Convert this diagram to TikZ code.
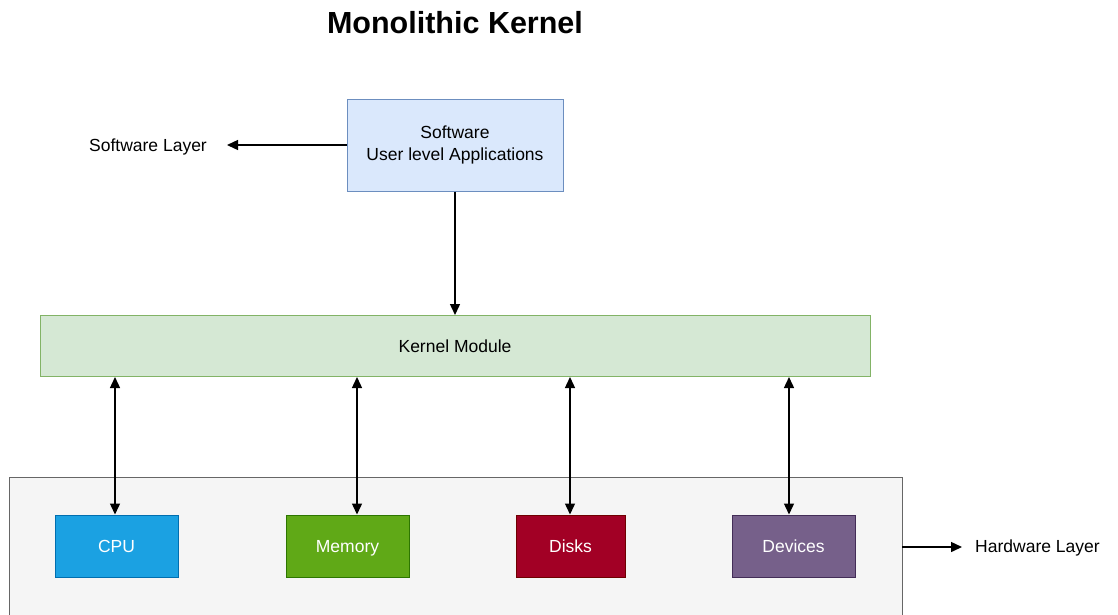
\documentclass[tikz,border=0pt]{standalone}
\usepackage{fontspec}
\setmainfont{Liberation Sans}
\usetikzlibrary{arrows.meta}
\definecolor{swfill}{HTML}{DAE8FC}
\definecolor{swdraw}{HTML}{6C8EBF}
\definecolor{kfill}{HTML}{D5E8D4}
\definecolor{kdraw}{HTML}{82B366}
\definecolor{hwfill}{HTML}{F5F5F5}
\definecolor{hwdraw}{HTML}{666666}
\definecolor{cpufill}{HTML}{1BA1E2}
\definecolor{cpudraw}{HTML}{006EAF}
\definecolor{memfill}{HTML}{60A917}
\definecolor{memdraw}{HTML}{2D7600}
\definecolor{diskfill}{HTML}{A20025}
\definecolor{diskdraw}{HTML}{6F0000}
\definecolor{devfill}{HTML}{76608A}
\definecolor{devdraw}{HTML}{432D57}
\tikzset{
  lbl/.style={font=\fontsize{17.5}{21}\selectfont, text=black},
  box/.style={draw, line width=1pt, inner sep=0pt, font=\fontsize{17.5}{22.5}\selectfont, align=center},
  hwbox/.style={box, text=white, minimum height=62pt, text height=16pt, text depth=2.5pt},
  arr/.style={-{Triangle[length=11pt,width=10pt]}, line width=1.4pt, black},
  darr/.style={{Triangle[length=11pt,width=10pt]}-{Triangle[length=11pt,width=10pt]}, line width=1.4pt, black},
}
\begin{document}
\begin{tikzpicture}[x=1pt,y=-1pt]
\useasboundingbox (0,0) rectangle (1118,614);
\clip (0,0) rectangle (1118,614);
\node[font=\fontsize{30.5}{36}\selectfont\bfseries] (title) at (455,23) {Monolithic Kernel};
\node[box, fill=swfill, draw=swdraw, minimum width=216pt, minimum height=92pt] (sw) at (455,145) {Software\\User level Applications};
\node[lbl] (swl) at (148,147) {Software Layer};
\node[box, fill=kfill, draw=kdraw, minimum width=830pt, minimum height=61pt] (k) at (455,346) {Kernel Module};
\draw[hwdraw, fill=hwfill, line width=1pt] (9,477) rectangle (902,640);
\coordinate (hwr) at (902,547);
\node[hwbox, fill=cpufill, draw=cpudraw, minimum width=123pt] (cpu) at (116.5,546) {CPU};
\node[hwbox, fill=memfill, draw=memdraw, minimum width=123pt] (mem) at (347.5,546) {Memory};
\node[hwbox, fill=diskfill, draw=diskdraw, minimum width=109pt] (disk) at (570.5,546) {Disks};
\node[hwbox, fill=devfill, draw=devdraw, minimum width=123pt] (dev) at (793.5,546) {Devices};
\node[lbl, anchor=west, inner sep=0pt] (hwl) at (975,548) {Hardware Layer};
\draw[arr] (sw.west |- 0,145) -- (227,145);
\draw[arr] (sw.south) -- (k.north);
\draw[arr] (hwr) -- (962,547);
\draw[darr] (k.south -| 115,0) -- (cpu.north -| 115,0);
\draw[darr] (k.south -| 357,0) -- (mem.north -| 357,0);
\draw[darr] (k.south -| 570,0) -- (disk.north -| 570,0);
\draw[darr] (k.south -| 789,0) -- (dev.north -| 789,0);
\end{tikzpicture}
\end{document}
